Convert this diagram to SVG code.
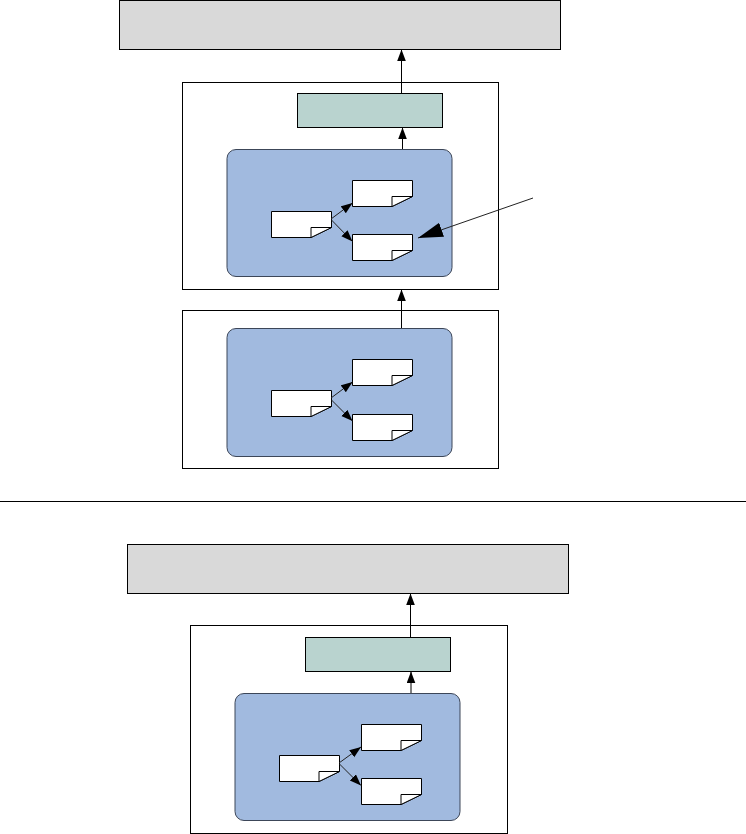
<svg xmlns="http://www.w3.org/2000/svg" width="746" height="834" viewBox="0 0 746 834">
<style>
.box{stroke:#000;stroke-width:1;shape-rendering:crispEdges}
.outer{fill:#fff}
.gray{fill:#d9d9d9}
.green{fill:#b9d3cf}
.blue{fill:#a1badf;stroke:#3c4658;stroke-width:1}
.note{fill:#fff;stroke:#000;stroke-width:1}
.c{fill:none;stroke:#000;stroke-width:1}
.t{stroke:#222;stroke-width:1;fill:none}
</style>
<defs>
<marker id="a" markerUnits="userSpaceOnUse" markerWidth="13" markerHeight="10" refX="11.500" refY="4.500" orient="auto"><path d="M0 .2L11.500 4.500L0 8.800Z" fill="#000"/></marker>
<marker id="b" markerUnits="userSpaceOnUse" markerWidth="28" markerHeight="16" refX="25" refY="7.500" orient="auto"><path d="M0 0L25 7.500L0 15Z" fill="#000"/></marker>
<g id="n"><path class="note" d="M0 0H60V16L39.500 26H0Z"/><path class="note" d="M39.500 26V16H60Z"/></g>
</defs>
<g id="panel-1"><rect class="box outer" x="182.500" y="82.500" width="316" height="207"/></g>
<g id="panel-2"><rect class="box outer" x="182.500" y="310.500" width="316" height="158"/></g>
<g id="panel-3"><rect class="box outer" x="190.500" y="625.500" width="317" height="208"/></g>
<g id="top-bar-1"><rect class="box gray" x="119.500" y="0.500" width="441" height="49"/></g>
<g id="top-bar-2"><rect class="box gray" x="127.500" y="544.500" width="441" height="49"/></g>
<g id="green-1"><rect class="box green" x="297.500" y="93.500" width="145" height="34"/></g>
<g id="green-2"><rect class="box green" x="305.500" y="637.500" width="145" height="34"/></g>
<g id="blue-1"><rect class="blue" x="227" y="149.500" width="225" height="127" rx="9"/></g>
<g id="blue-2"><rect class="blue" x="227" y="328.500" width="225" height="128" rx="9"/></g>
<g id="blue-3"><rect class="blue" x="235" y="693.500" width="225" height="127" rx="9"/></g>
<g id="note-1a"><use href="#n" x="271.500" y="211.500"/></g>
<g id="note-1b"><use href="#n" x="352.500" y="180.500"/></g>
<g id="note-1c"><use href="#n" x="352.500" y="234.500"/></g>
<g id="note-2a"><use href="#n" x="271.500" y="390.500"/></g>
<g id="note-2b"><use href="#n" x="352.500" y="359.500"/></g>
<g id="note-2c"><use href="#n" x="352.500" y="414.500"/></g>
<g id="note-3a"><use href="#n" x="279.500" y="755.500"/></g>
<g id="note-3b"><use href="#n" x="361.500" y="724.500"/></g>
<g id="note-3c"><use href="#n" x="361.500" y="778.500"/></g>
<g id="connectors">
<path class="c" d="M401.500 93V49.500" marker-end="url(#a)"/>
<path class="c" d="M402.500 149V127.500" marker-end="url(#a)"/>
<path class="c" d="M401.500 328V289.500" marker-end="url(#a)"/>
<path class="c" d="M410.500 637V593.500" marker-end="url(#a)"/>
<path class="c" d="M411 693V671.500" marker-end="url(#a)"/>
<path class="t" d="M331 219L352.500 203" marker-end="url(#a)"/>
<path class="t" d="M331.500 220L352.500 241.500" marker-end="url(#a)"/>
<path class="t" d="M331 398L352.500 382" marker-end="url(#a)"/>
<path class="t" d="M331.500 400L352.500 421" marker-end="url(#a)"/>
<path class="t" d="M339 763L361 747" marker-end="url(#a)"/>
<path class="t" d="M339.500 764L361 785.500" marker-end="url(#a)"/>
<path class="t" d="M533 198L418 238" marker-end="url(#b)"/>
</g>
<path id="divider" d="M0 501.500H746" stroke="#000" stroke-width="1" fill="none"/>
</svg>
